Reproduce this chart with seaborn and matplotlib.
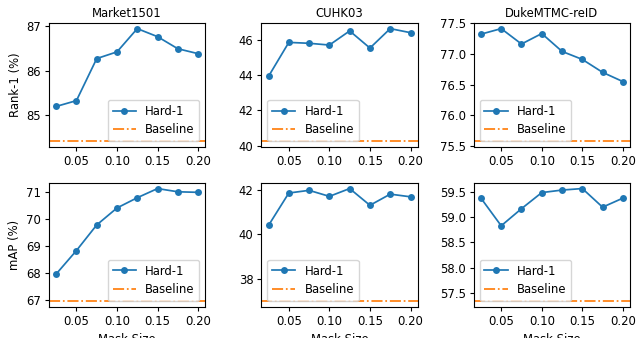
import numpy as np
import pandas as pd
import matplotlib
matplotlib.use("Agg")
import matplotlib.pyplot as plt
import seaborn as sns

mask_sizes = [0.025, 0.05, 0.075, 0.10, 0.125, 0.15, 0.175, 0.20]
datasets = ["Market1501", "CUHK03", "DukeMTMC-reID"]

# Rank-1 (%)
rank1_market = [85.20, 85.33, 86.27, 86.42, 86.94, 86.76, 86.49, 86.38]
rank1_cuhk = [43.93, 45.85, 45.80, 45.70, 46.50, 45.53, 46.63, 46.40]
rank1_duke = [77.32, 77.41, 77.16, 77.33, 77.04, 76.91, 76.70, 76.55]
rank1_baseline = [84.42, 40.25, 75.58]

# mAP (%)
map_market = [67.95, 68.82, 69.77, 70.40, 70.78, 71.12, 71.00, 70.98]
map_cuhk = [40.40, 41.85, 41.97, 41.70, 42.05, 41.30, 41.80, 41.68]
map_duke = [59.38, 58.83, 59.17, 59.49, 59.54, 59.57, 59.20, 59.38]
map_baseline = [66.94, 37.00, 57.33]

rows = [
    ("Rank-1 (%)", [rank1_market, rank1_cuhk, rank1_duke], rank1_baseline),
    ("mAP (%)", [map_market, map_cuhk, map_duke], map_baseline),
]

plt.rcParams["font.family"] = ["DejaVu Sans"]
plt.rcParams["font.size"] = 8.4
plt.rcParams["axes.linewidth"] = 0.8
plt.rcParams["xtick.major.size"] = 3
plt.rcParams["ytick.major.size"] = 3
plt.rcParams["xtick.major.pad"] = 2.9
plt.rcParams["ytick.major.pad"] = 2.9
plt.rcParams["axes.labelpad"] = 3.3
plt.rcParams["axes.titlepad"] = 4.5

fig, axes = plt.subplots(2, 3, figsize=(6.37, 3.38), dpi=100)
fig.subplots_adjust(left=0.077, right=0.989, top=0.932, bottom=0.092,
                    wspace=0.36, hspace=0.29)

for r, (ylabel, series, baselines) in enumerate(rows):
    for c, name in enumerate(datasets):
        ax = axes[r, c]
        df = pd.DataFrame({"mask": mask_sizes, "value": series[c]})
        sns.lineplot(data=df, x="mask", y="value", marker="o", markersize=5,
                     markeredgewidth=0, linewidth=1.25, color="#1f77b4",
                     label="Hard-1", ax=ax)
        ax.axhline(baselines[c], color="#ff7f0e", linestyle="-.",
                   linewidth=1.25, label="Baseline")
        ax.legend(loc="best")
        ax.set_xticks([0.05, 0.10, 0.15, 0.20])
        ax.set_xticklabels(["0.05", "0.10", "0.15", "0.20"])
        ax.set_xlabel("Mask Size" if r == 1 else "")
        ax.set_ylabel(ylabel if c == 0 else "")
        if r == 0:
            ax.set_title(name, fontsize=8.4)
        if c == 2:
            ax.yaxis.set_major_formatter(matplotlib.ticker.FormatStrFormatter("%.1f"))

fig.savefig("out.png", dpi=100)
